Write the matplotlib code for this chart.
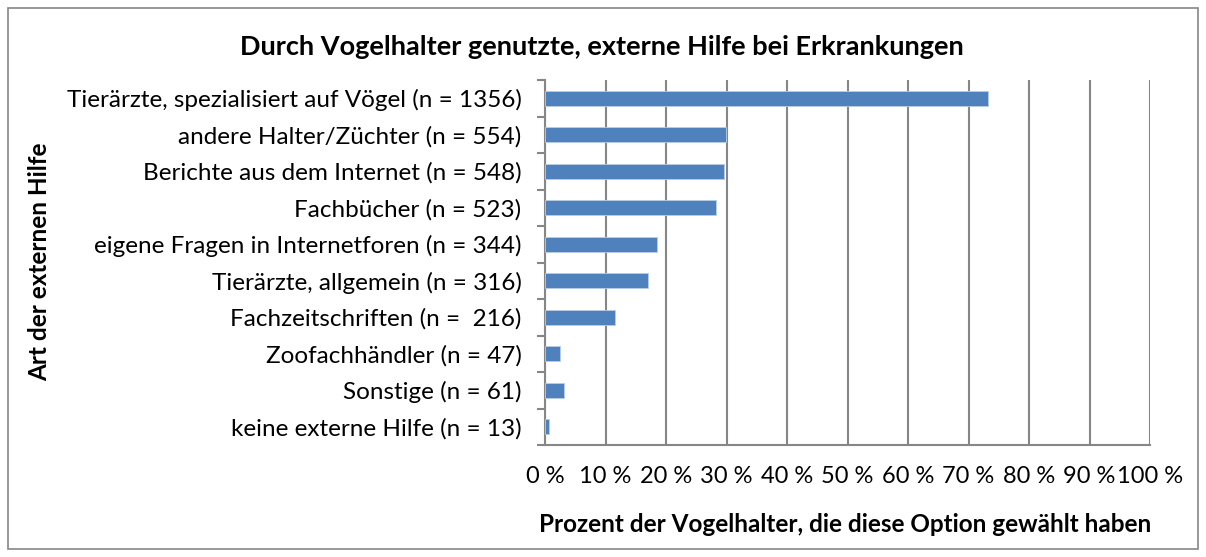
import matplotlib.pyplot as plt
from matplotlib.patches import Rectangle
from matplotlib.ticker import FixedLocator, MultipleLocator

plt.rcParams['font.family'] = ['Lato', 'DejaVu Sans']

# Data
categories = [
    'Tierärzte, spezialisiert auf Vögel (n = 1356)',
    'andere Halter/Züchter (n = 554)',
    'Berichte aus dem Internet (n = 548)',
    'Fachbücher (n = 523)',
    'eigene Fragen in Internetforen (n = 344)',
    'Tierärzte, allgemein (n = 316)',
    'Fachzeitschriften (n =  216)',
    'Zoofachhändler (n = 47)',
    'Sonstige (n = 61)',
    'keine externe Hilfe (n = 13)',
]
percent = [73.3, 29.9, 29.6, 28.2, 18.5, 17.1, 11.6, 2.5, 3.2, 0.7]
x_ticks = list(range(0, 101, 10))
x_tick_labels = [f'{t} %' for t in x_ticks]

bar_color = '#4F81BD'
grid_color = '#868686'

fig = plt.figure(figsize=(12.06, 5.57), dpi=100)
ax = fig.add_axes([545 / 1206, 1 - 445 / 557, 605 / 1206, 365 / 557])

ypos = list(range(len(categories)))[::-1]
ax.barh(ypos, percent, height=0.4, color=bar_color, edgecolor='#B9CDE5',
        linewidth=0.6, zorder=3)

ax.set_xlim(0, 100)
ax.set_ylim(-0.5, len(categories) - 0.5)
ax.set_xticks(x_ticks)
ax.set_xticklabels(x_tick_labels, fontsize=17)
ax.set_yticks(ypos)
ax.set_yticklabels(categories, fontsize=17.5)
ax.tick_params(axis='y', length=0, pad=17)
ax.tick_params(axis='x', length=0, pad=15)

# category separator ticks on the y axis
ax.yaxis.set_minor_locator(FixedLocator([i - 0.5 for i in range(len(categories) + 1)]))
ax.tick_params(axis='y', which='minor', length=6, width=1.5, color=grid_color)
ax.xaxis.set_minor_locator(MultipleLocator(10))
ax.tick_params(axis='x', which='minor', length=6, width=1.5, color=grid_color)

ax.grid(axis='x', which='major', color=grid_color, linewidth=1.5, zorder=0)
for side in ['top', 'right']:
    ax.spines[side].set_visible(False)
ax.spines['left'].set_color(grid_color)
ax.spines['left'].set_linewidth(1.5)
ax.spines['bottom'].set_color(grid_color)
ax.spines['bottom'].set_linewidth(1.5)

fig.text(602 / 1206, 1 - 47 / 557, 'Durch Vogelhalter genutzte, externe Hilfe bei Erkrankungen',
         ha='center', va='center', fontsize=19.5, fontweight='bold')
fig.text(845 / 1206, 1 - 524 / 557, 'Prozent der Vogelhalter, die diese Option gewählt haben',
         ha='center', va='center', fontsize=17.5, fontweight='bold')
fig.text(40 / 1206, 1 - 262 / 557, 'Art der externen Hilfe', rotation=90,
         ha='center', va='center', fontsize=17.5, fontweight='bold')

# outer chart border
fig.patches.append(Rectangle((8 / 1206, 8 / 557), 1190 / 1206, 541 / 557,
                             transform=fig.transFigure, fill=False,
                             edgecolor='#868686', linewidth=1.2))

fig.savefig('out.png', dpi=100)
